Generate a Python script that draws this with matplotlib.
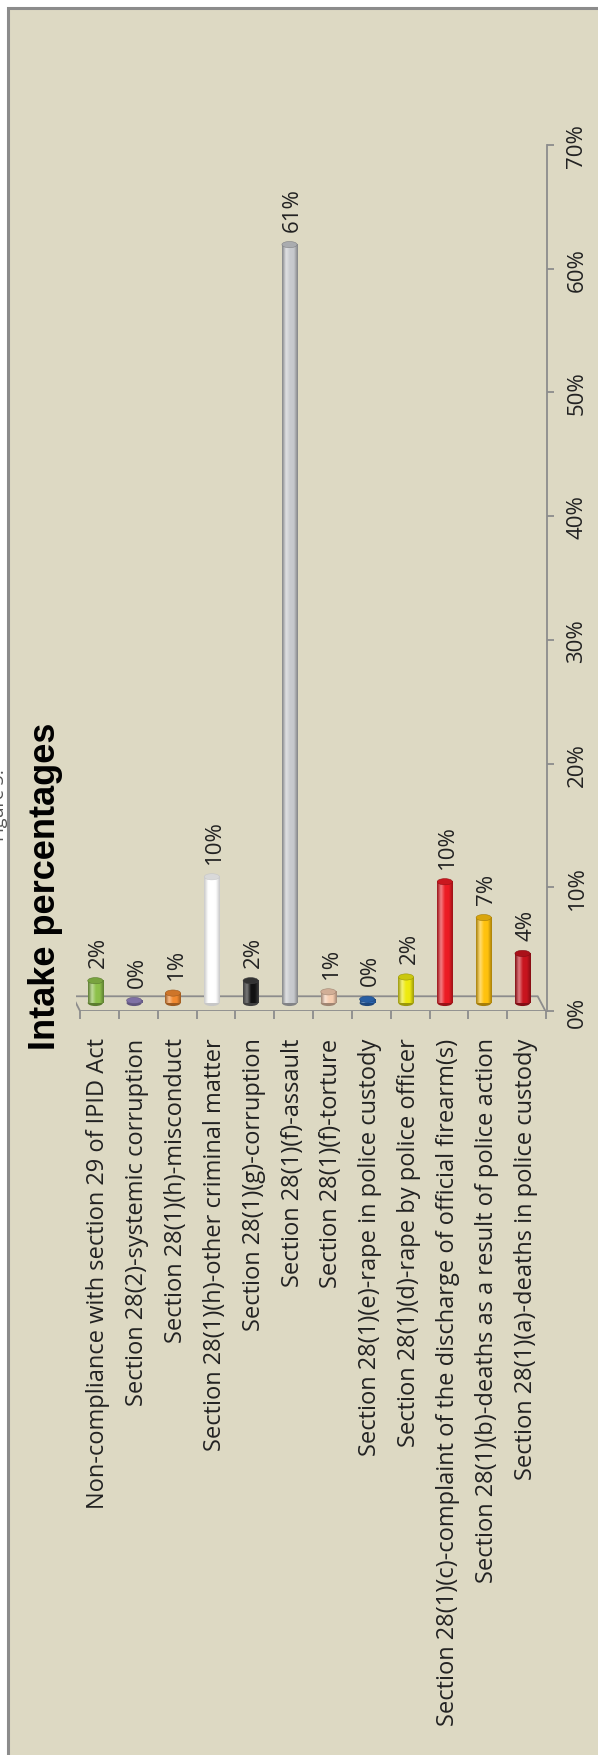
import numpy as np
import matplotlib
matplotlib.use('Agg')
from matplotlib import pyplot as plt
from matplotlib.patches import Rectangle, Ellipse, Polygon
from matplotlib.colors import LinearSegmentedColormap, to_rgb
from matplotlib.transforms import ScaledTranslation

plt.rcParams['font.family'] = ['Open Sans', 'DejaVu Sans']

# data (in %)
categories = [
    'Non-compliance with section 29 of IPID Act',
    'Section 28(2)-systemic corruption',
    'Section 28(1)(h)-misconduct',
    'Section 28(1)(h)-other criminal matter',
    'Section 28(1)(g)-corruption',
    'Section 28(1)(f)-assault',
    'Section 28(1)(f)-torture',
    'Section 28(1)(e)-rape in police custody',
    'Section 28(1)(d)-rape by police officer',
    'Section 28(1)(c)-complaint of the discharge of official firearm(s)',
    'Section 28(1)(b)-deaths as a result of police action',
    'Section 28(1)(a)-deaths in police custody',
]
values = [1.8, 0.2, 0.8, 10.2, 1.8, 61.3, 0.9, 0.3, 2.1, 9.8, 6.9, 4.0]
bar_colors = ['#8DC04A', '#9585C2', '#F28A30', '#FFFFFF', '#111111', '#C8CACE',
              '#F6CDB0', '#2F6FC0', '#EEEA10', '#EC1C24', '#FFC20E', '#C8141E']
yticks = [0, 10, 20, 30, 40, 50, 60, 70]

BG = '#DDD9C3'
GRID = '#8C8C8C'
TXT = '#222222'


def mix(c, other, t):
    c = np.array(to_rgb(c))
    o = np.array(to_rgb(other))
    return tuple(c * (1 - t) + o * t)


fig = plt.figure(figsize=(5.98, 17.56), dpi=100)
fig.patch.set_facecolor('white')

# beige chart area with grey frame (runs off the right/bottom edge)
fig.patches.append(Rectangle((7.5 / 598, -0.01), 1.0, 1.01 - 8.5 / 1756,
                             transform=fig.transFigure, facecolor=BG,
                             edgecolor=GRID, lw=2.2, zorder=-5))

# the clipped "Figure 3:" caption at the far left
fig.text(8 / 598, 1 - 805 / 1756, 'Figure 3:', rotation=90, ha='right', va='center',
         fontsize=13, color='#555555')

ax = fig.add_axes([75.9 / 598, (1756 - 1012) / 1756, (547 - 75.9) / 598, (1012 - 146) / 1756])
ax.patch.set_alpha(0)

x = np.arange(len(categories))
base = 0.65     # 3D floor offset of the cylinders
width = 0.39
bars = ax.bar(x, values, width=width, bottom=base, color=bar_colors, zorder=3)

ell_h = 0.5
for rect, c, v in zip(bars, bar_colors, values):
    x0, y0 = rect.get_x(), rect.get_y()
    w, h = rect.get_width(), rect.get_height()
    xc = x0 + w / 2
    dark = mix(c, 'black', 0.35) if c != '#111111' else (0.25, 0.25, 0.25)
    light = mix(c, 'white', 0.45)
    if c == '#FFFFFF':
        dark = (0.78, 0.78, 0.78)
    cmap = LinearSegmentedColormap.from_list('cyl', [dark, light, c, c, dark])
    grad = np.linspace(0, 1, 64).reshape(1, -1)
    ax.imshow(grad, extent=[x0, x0 + w, y0, y0 + h], aspect='auto', cmap=cmap,
              zorder=4, interpolation='bicubic')
    # bottom and top of the cylinder
    ax.add_patch(Ellipse((xc, y0), w, ell_h, facecolor=dark, edgecolor='none', zorder=3))
    ax.add_patch(Ellipse((xc, y0 + h), w, ell_h, facecolor=mix(c, 'black', 0.15) if c != '#111111' else '#333333',
                         edgecolor=dark, lw=0.4, zorder=5))
    ax.annotate('%d%%' % round(v), (xc, y0 + h), xytext=(2.2, 10), textcoords='offset points',
                rotation=90, ha='center', va='bottom', fontsize=16, color=TXT)

# 3D floor outline
n = len(categories)
floor = Polygon([(-0.587, 1.19), (n - 0.61, 1.19), (n - 0.41, 0), (-0.394, 0)],
                closed=True, fill=False, edgecolor=GRID, lw=1.3, zorder=2)
ax.add_patch(floor)

ax.set_xlim(-0.5, 11.63)
ax.set_ylim(0, 70)

# axes styling
for s in ['top', 'left', 'bottom']:
    ax.spines[s].set_visible(False)
ax.spines['right'].set_color(GRID)
ax.spines['right'].set_linewidth(1.3)

ax.yaxis.tick_right()
ax.set_yticks(yticks)
ax.set_yticklabels(['%d%%' % t for t in yticks], rotation=90, va='center', fontsize=16, color=TXT)
ax.tick_params(axis='y', direction='out', length=5, width=1.3, color=GRID, pad=9)

ax.set_xticks(x)
ax.set_xticklabels(categories, rotation=90, ha='center', va='top', fontsize=17, color=TXT)
ax.set_xticks(np.arange(n + 1) - 0.394, minor=True)
ax.tick_params(axis='x', which='major', length=0, pad=19)
ax.tick_params(axis='x', which='minor', direction='out', length=5.5, width=1.3, color=GRID)
shift = ScaledTranslation(3 / 100, 0, fig.dpi_scale_trans)
for lbl in ax.get_xticklabels():
    lbl.set_transform(lbl.get_transform() + shift)

# title, rotated with the rest of the chart
fig.text(46 / 598, 1 - 886 / 1756, 'Intake percentages', rotation=90, ha='center', va='center',
         fontsize=26, fontweight='bold', family=['Liberation Sans', 'DejaVu Sans'], color='black')

fig.savefig('out.png', dpi=100)
